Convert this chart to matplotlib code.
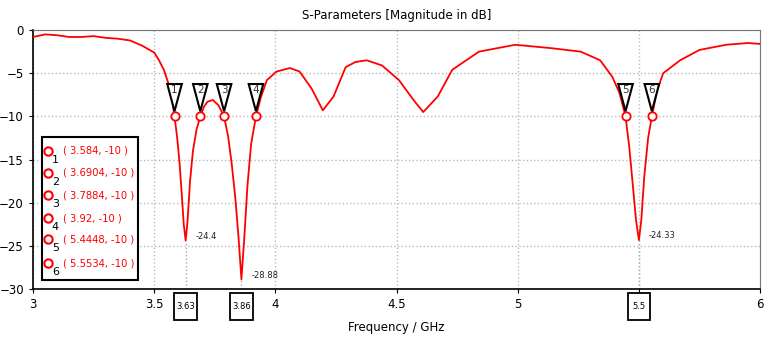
import numpy as np
import matplotlib.pyplot as plt
from matplotlib.patches import Rectangle, Polygon

# S11 trace
freq = [3.0, 3.05, 3.1, 3.15, 3.2, 3.25, 3.3, 3.35, 3.4, 3.45, 3.5, 3.52, 3.54, 3.56,
        3.575, 3.584, 3.595, 3.605, 3.615, 3.622, 3.63, 3.638, 3.648, 3.66, 3.675,
        3.6904, 3.705, 3.72, 3.742, 3.765, 3.7884, 3.805, 3.82, 3.835, 3.848, 3.86,
        3.872, 3.885, 3.9, 3.92, 3.94, 3.965, 4.005, 4.06, 4.1, 4.15, 4.196, 4.24,
        4.29, 4.33, 4.377, 4.44, 4.51, 4.57, 4.61, 4.67, 4.73, 4.84, 4.99, 5.14,
        5.26, 5.34, 5.39, 5.42, 5.4448, 5.46, 5.475, 5.488, 5.5, 5.51, 5.522, 5.538,
        5.5534, 5.575, 5.6, 5.67, 5.75, 5.86, 5.95, 6.0]
s11 = [-0.8, -0.5, -0.6, -0.8, -0.8, -0.7, -0.9, -1.0, -1.2, -1.8, -2.6, -3.5, -4.6, -6.3,
       -8.3, -10.0, -12.5, -15.5, -19.5, -22.5, -24.4, -22.0, -17.5, -14.0, -11.5,
       -10.0, -8.9, -8.3, -8.1, -8.7, -10.0, -12.3, -15.5, -19.5, -24.0, -28.88,
       -24.0, -18.0, -13.2, -10.0, -7.8, -5.8, -4.8, -4.4, -4.8, -6.8, -9.3, -7.7,
       -4.3, -3.7, -3.5, -4.1, -5.8, -8.1, -9.5, -7.7, -4.6, -2.5, -1.7, -2.1,
       -2.5, -3.5, -5.4, -7.3, -10.0, -13.5, -18.0, -22.0, -24.33, -22.0, -17.0, -12.5,
       -10.0, -7.0, -5.0, -3.5, -2.3, -1.7, -1.5, -1.6]

mark_x = [3.584, 3.6904, 3.7884, 3.92, 5.4448, 5.5534]
mark_y = [-10, -10, -10, -10, -10, -10]
mark_lbl = ['( 3.584, -10 )', '( 3.6904, -10 )', '( 3.7884, -10 )',
            '( 3.92, -10 )', '( 5.4448, -10 )', '( 5.5534, -10 )']

min_x = [3.63, 3.86, 5.5]
min_y = [-24.4, -28.88, -24.33]
min_lbl = ['-24.4', '-28.88', '-24.33']
min_tick = ['3.63', '3.86', '5.5']

xticks = [3, 3.5, 4, 4.5, 5, 5.5, 6]
xtick_lbl = ['3', '3.5', '4', '4.5', '5', '', '6']

fig = plt.figure(figsize=(7.67, 3.38), dpi=100)
ax = fig.add_axes([0.043, 0.145, 0.948, 0.766])

ax.plot(freq, s11, color='#ff0000', lw=1.3, zorder=3)

# dotted guide from the minima down to the axis
for x, y in zip(min_x, min_y):
    ax.plot([x, x], [-30, y], color='#aaaaaa', ls=':', lw=1, zorder=2)

# markers
ax.plot(mark_x, mark_y, 'o', ms=6, mfc='white', mec='#ff0000', mew=1.3, zorder=5)
for i, x in enumerate(mark_x):
    ax.add_patch(Polygon([(x - 0.03, -6.25), (x + 0.03, -6.25), (x, -9.4)],
                         closed=True, fc='white', ec='black', lw=1.5, zorder=5))
    ax.text(x, -7.0, str(i + 1), ha='center', va='center', fontsize=7.5,
            color='#333333', zorder=6)

for x, y, s in zip(min_x, min_y, min_lbl):
    ax.text(x + 0.04, y + 0.5, s, fontsize=6, color='#222222', va='center')

# boxed tick labels below axis
for x, s in zip(min_x, min_tick):
    ax.add_patch(Rectangle((x - 0.047, -33.6), 0.094, 3.1, fc='white', ec='black',
                           lw=1.3, clip_on=False, zorder=4))
    ax.text(x, -32.0, s, ha='center', va='center', fontsize=6, clip_on=False,
            zorder=5)

# marker legend box
ax.add_patch(Rectangle((0.012, 0.035), 0.133, 0.552, transform=ax.transAxes,
                       fc='white', ec='black', lw=1.5, zorder=6))
rows = [0.533, 0.448, 0.363, 0.274, 0.193, 0.100]
for i, (yy, s) in enumerate(zip(rows, mark_lbl)):
    ax.plot(0.021, yy, 'o', ms=6, mfc='white', mec='#ff0000', mew=1.5,
            transform=ax.transAxes, zorder=7)
    ax.text(0.026, yy - 0.035, str(i + 1), transform=ax.transAxes, fontsize=8,
            ha='left', va='center', color='black', zorder=7)
    ax.text(0.041, yy, s, transform=ax.transAxes, fontsize=7.2, color='#ff0000',
            ha='left', va='center', zorder=7)

ax.set_xlim(3, 6)
ax.set_ylim(-30, 0)
ax.set_xticks(xticks)
ax.set_xticklabels(xtick_lbl)
ax.set_yticks([0, -5, -10, -15, -20, -25, -30])
ax.tick_params(labelsize=8.5, length=3, direction='out')
ax.grid(True, color='#bbbbbb', ls=':', lw=1)
for s in ['top', 'right']:
    ax.spines[s].set_color('#777777')
ax.spines['left'].set_linewidth(1.2)
ax.spines['bottom'].set_linewidth(1.2)

ax.set_title('S-Parameters [Magnitude in dB]', fontsize=8.5, pad=8)
ax.set_xlabel('Frequency / GHz', fontsize=8.5, labelpad=7)

plt.savefig('out.png', dpi=100)
